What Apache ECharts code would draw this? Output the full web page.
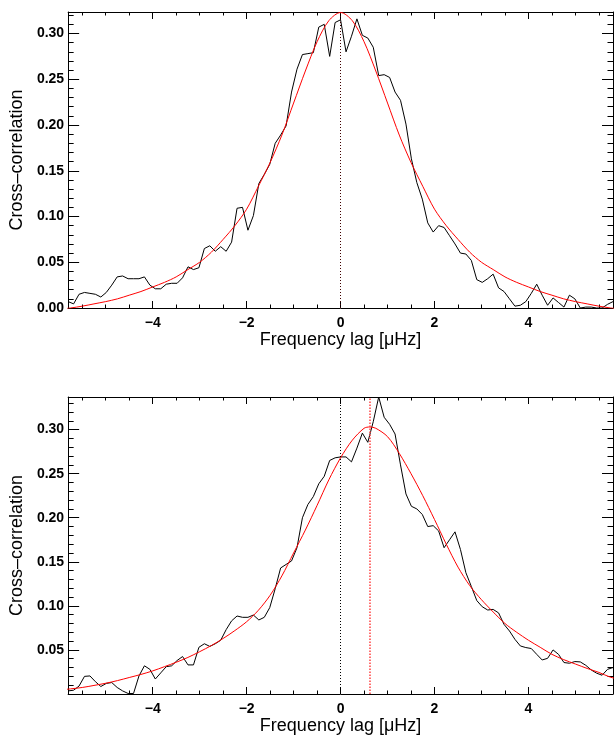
<!DOCTYPE html>
<html>
<head>
<meta charset="utf-8">
<script src="https://cdn.jsdelivr.net/npm/echarts@6/dist/echarts.min.js"></script>
<style>
html,body{margin:0;padding:0;background:#fff;}
#chart{width:614px;height:738px;}
</style>
</head>
<body>
<div id="chart"></div>
<script>
// ---- data ----
const lagX = [-5.800,-5.684,-5.568,-5.452,-5.336,-5.220,-5.104,-4.988,-4.872,-4.756,
  -4.640,-4.524,-4.408,-4.292,-4.176,-4.060,-3.944,-3.828,-3.712,-3.596,
  -3.480,-3.364,-3.248,-3.132,-3.016,-2.900,-2.784,-2.668,-2.552,-2.436,
  -2.320,-2.204,-2.088,-1.972,-1.856,-1.740,-1.624,-1.508,-1.392,-1.276,
  -1.160,-1.044,-0.928,-0.812,-0.696,-0.580,-0.464,-0.348,-0.232,-0.116,
  0,
  0.116,0.232,0.348,0.464,0.580,0.696,0.812,0.928,1.044,1.160,
  1.276,1.392,1.508,1.624,1.740,1.856,1.972,2.088,2.204,2.320,
  2.436,2.552,2.668,2.784,2.900,3.016,3.132,3.248,3.364,3.480,
  3.596,3.712,3.828,3.944,4.060,4.176,4.292,4.408,4.524,4.640,
  4.756,4.872,4.988,5.104,5.220,5.336,5.452,5.568,5.684,5.800];

const ccTop = [0.007,0.0045,0.015,0.017,0.016,0.015,0.012,0.017,0.025,0.034,
  0.035,0.032,0.032,0.032,0.034,0.025,0.021,0.021,0.026,0.027,
  0.027,0.033,0.045,0.042,0.044,0.065,0.068,0.062,0.067,0.062,
  0.072,0.109,0.110,0.085,0.101,0.136,0.146,0.157,0.180,0.189,
  0.199,0.236,0.261,0.277,0.278,0.279,0.307,0.310,0.275,0.312,
  0.315,
  0.280,0.297,0.316,0.298,0.295,0.285,0.254,0.255,0.252,0.236,
  0.227,0.201,0.163,0.137,0.119,0.093,0.083,0.090,0.088,0.079,
  0.070,0.060,0.059,0.052,0.031,0.028,0.032,0.037,0.022,0.018,
  0.010,0.002,0.003,0.007,0.016,0.026,0.014,0.003,0.011,0.006,
  0.001,0.014,0.010,0.000,0.001,0.001,0.000,0.000,0.004,0.007];

const ccBottom = [0.0035,0.0043,0.009,0.020,0.0205,0.014,0.0085,0.012,0.013,0.0074,
  0.0035,0.0006,0.0006,0.0205,0.032,0.028,0.017,0.024,0.031,0.032,
  0.038,0.0425,0.033,0.033,0.053,0.057,0.054,0.057,0.061,0.073,
  0.083,0.0885,0.087,0.087,0.0896,0.084,0.087,0.098,0.1195,0.143,
  0.147,0.151,0.166,0.200,0.215,0.224,0.2385,0.247,0.265,0.268,
  0.269,
  0.269,0.2634,0.279,0.296,0.2856,0.309,0.337,0.314,0.306,0.295,
  0.260,0.227,0.213,0.210,0.2037,0.190,0.191,0.185,0.166,0.175,
  0.184,0.164,0.1376,0.122,0.106,0.099,0.0953,0.096,0.092,0.079,
  0.0715,0.062,0.0545,0.0527,0.0516,0.045,0.0386,0.0405,0.050,0.045,
  0.0357,0.0349,0.0368,0.0364,0.0326,0.0273,0.0236,0.0213,0.028,0.030];

const fitXTop = [-6,-5.75,-5.5,-5.25,-5,-4.75,-4.5,-4.25,-4,-3.75,-3.5,-3.25,-3,-2.75,-2.5,-2.25,-2,-1.75,-1.5,-1.25,-1,-0.75,-0.5,-0.25,
  0,0.25,0.5,0.75,1,1.25,1.5,1.75,2,2.25,2.5,2.75,3,3.25,3.5,3.75,4,4.25,4.5,4.75,5,5.25,5.5,5.75,6];

const fitTop = [-0.0015,0.000,0.002,0.0045,0.007,0.010,0.014,0.018,0.023,0.028,0.034,0.042,0.050,0.061,0.075,0.090,0.108,0.133,0.159,0.189,0.224,0.259,0.291,0.314,
  0.323,0.314,0.291,0.259,0.224,0.189,0.159,0.133,0.108,0.090,0.075,0.061,0.050,0.042,0.034,0.028,0.023,0.018,0.014,0.010,0.007,0.0045,0.002,0.000,-0.0015];

const fitXBottom = [-6,-5.75,-5.5,-5.25,-5,-4.75,-4.5,-4.25,-4,-3.75,-3.5,-3.25,-3,-2.75,-2.5,-2.25,-2,-1.75,-1.5,-1.25,-1,-0.75,-0.5,-0.25,
  0,0.25,0.5,0.625,0.75,1,1.25,1.5,1.75,2,2.25,2.5,2.75,3,3.25,3.5,3.75,4,4.25,4.5,4.75,5,5.25,5.5,5.75,6];

const fitBottom = [0.0045,0.0058,0.0074,0.0097,0.0122,0.0152,0.0187,0.0222,0.0262,0.031,0.036,0.0415,0.048,0.055,0.063,0.072,0.082,0.095,0.112,0.134,0.160,0.186,0.214,0.243,
  0.268,0.288,0.3015,0.303,0.3015,0.292,0.273,0.250,0.225,0.198,0.170,0.144,0.123,0.107,0.093,0.080,0.070,0.061,0.053,0.045,0.039,0.034,0.029,0.0245,0.019,0.016];

const zeroLag = 0;
const fitCenterTop = 0;
const fitCenterBottom = 0.62;

const xMajorTicks = [-4,-2,0,2,4];
const xMinorTicks = [-5.5,-5,-4.5,-3.5,-3,-2.5,-1.5,-1,-0.5,0.5,1,1.5,2.5,3,3.5,4.5,5,5.5];
const yMajorTicksTop = [0,0.05,0.10,0.15,0.20,0.25,0.30];
const yMinorTicksTop = [0.01,0.02,0.03,0.04,0.06,0.07,0.08,0.09,0.11,0.12,0.13,0.14,0.16,0.17,0.18,0.19,0.21,0.22,0.23,0.24,0.26,0.27,0.28,0.29,0.31,0.32];
const yMajorTicksBottom = [0.05,0.10,0.15,0.20,0.25,0.30];
const yMinorTicksBottom = [0.01,0.02,0.03,0.04,0.06,0.07,0.08,0.09,0.11,0.12,0.13,0.14,0.16,0.17,0.18,0.19,0.21,0.22,0.23,0.24,0.26,0.27,0.28,0.29,0.31,0.32,0.33];

const xRange = [-5.8, 5.8];
const yRangeTop = [0, 0.3235];
const yRangeBottom = [0, 0.337];

// ---- chart ----
const FONT = '"Liberation Sans", Arial, Helvetica, sans-serif';
const join = (a, b) => a.map((v, i) => [v, b[i]]);
const fmtX = v => (v < 0 ? '\u2212' + Math.abs(v) : String(v));
const fmtY = v => v.toFixed(2);
const tickLbl = {fontFamily: FONT, fontSize: 14, fontWeight: 'bold', color: '#000'};
const nameStyle = {fontFamily: FONT, fontSize: 18, color: '#000'};
const black = {color: '#000', width: 1};

function makeX(g) {
  const base = {gridIndex: g, type: 'value', min: xRange[0], max: xRange[1], splitLine: {show: false}};
  const major = {show: true, inside: true, length: 7, customValues: xMajorTicks, lineStyle: black};
  const minor = {show: true, inside: true, length: 3.5, customValues: xMinorTicks, lineStyle: black};
  return [
    Object.assign({}, base, {position: 'bottom', axisLine: {show: true, onZero: false, lineStyle: black},
      axisTick: major, axisLabel: Object.assign({customValues: xMajorTicks, formatter: fmtX, margin: 8}, tickLbl),
      name: 'Frequency lag [\u03bcHz]', nameLocation: 'middle', nameGap: 22, nameTextStyle: nameStyle}),
    Object.assign({}, base, {position: 'top', axisLine: {show: true, onZero: false, lineStyle: black},
      axisTick: major, axisLabel: {show: false}}),
    Object.assign({}, base, {position: 'bottom', axisLine: {show: false, onZero: false}, axisTick: minor, axisLabel: {show: false}}),
    Object.assign({}, base, {position: 'top', axisLine: {show: false, onZero: false}, axisTick: minor, axisLabel: {show: false}})
  ];
}

function makeY(g, range, majors, minors) {
  const base = {gridIndex: g, type: 'value', min: range[0], max: range[1], splitLine: {show: false}};
  const major = {show: true, inside: true, length: 11, customValues: majors, lineStyle: black};
  const minor = {show: true, inside: true, length: 5.5, customValues: minors, lineStyle: black};
  return [
    Object.assign({}, base, {position: 'left', axisLine: {show: true, onZero: false, lineStyle: black},
      axisTick: major, axisLabel: Object.assign({customValues: majors, formatter: fmtY, margin: 4}, tickLbl),
      name: 'Cross\u2013correlation', nameLocation: 'middle', nameGap: 40, nameTextStyle: nameStyle}),
    Object.assign({}, base, {position: 'right', axisLine: {show: true, onZero: false, lineStyle: black},
      axisTick: major, axisLabel: {show: false}}),
    Object.assign({}, base, {position: 'left', axisLine: {show: false, onZero: false}, axisTick: minor, axisLabel: {show: false}}),
    Object.assign({}, base, {position: 'right', axisLine: {show: false, onZero: false}, axisTick: minor, axisLabel: {show: false}})
  ];
}

function vline(xi, yi, x, color, width, dash, opacity) {
  return {
    type: 'line', xAxisIndex: xi, yAxisIndex: yi, data: [], silent: true,
    markLine: {
      silent: true, symbol: 'none', label: {show: false}, animation: false,
      lineStyle: {color: color, width: width, type: dash, opacity: opacity},
      emphasis: {disabled: true},
      data: [{xAxis: x}]
    }
  };
}

const option = {
  animation: false,
  backgroundColor: '#fff',
  grid: [
    {left: 67, top: 12, width: 546, height: 296},
    {left: 67, top: 397, width: 546, height: 297}
  ],
  xAxis: makeX(0).concat(makeX(1)),
  yAxis: makeY(0, yRangeTop, yMajorTicksTop, yMinorTicksTop).concat(makeY(1, yRangeBottom, yMajorTicksBottom, yMinorTicksBottom)),
  series: [
    vline(0, 0, fitCenterTop, '#ff0000', 1, [1, 2], 1),
    vline(0, 0, zeroLag, '#000000', 1, [1, 2], 0.75),
    {type: 'line', xAxisIndex: 0, yAxisIndex: 0, data: join(lagX, ccTop), showSymbol: false, lineStyle: {color: '#000', width: 1}, silent: true},
    {type: 'line', xAxisIndex: 0, yAxisIndex: 0, data: join(fitXTop, fitTop), showSymbol: false, smooth: 0.3, lineStyle: {color: '#ff0000', width: 1}, silent: true},

    vline(4, 4, zeroLag, '#000000', 1, [1, 2], 1),
    vline(4, 4, fitCenterBottom, '#ff4040', 1.5, [1.5, 1.5], 1),
    {type: 'line', xAxisIndex: 4, yAxisIndex: 4, data: join(lagX, ccBottom), showSymbol: false, lineStyle: {color: '#000', width: 1}, silent: true},
    {type: 'line', xAxisIndex: 4, yAxisIndex: 4, data: join(fitXBottom, fitBottom), showSymbol: false, smooth: 0.3, lineStyle: {color: '#ff0000', width: 1}, silent: true}
  ]
};

const chart = echarts.init(document.getElementById('chart'), null, {renderer: 'canvas'});
chart.setOption(option);
</script>
</body>
</html>
